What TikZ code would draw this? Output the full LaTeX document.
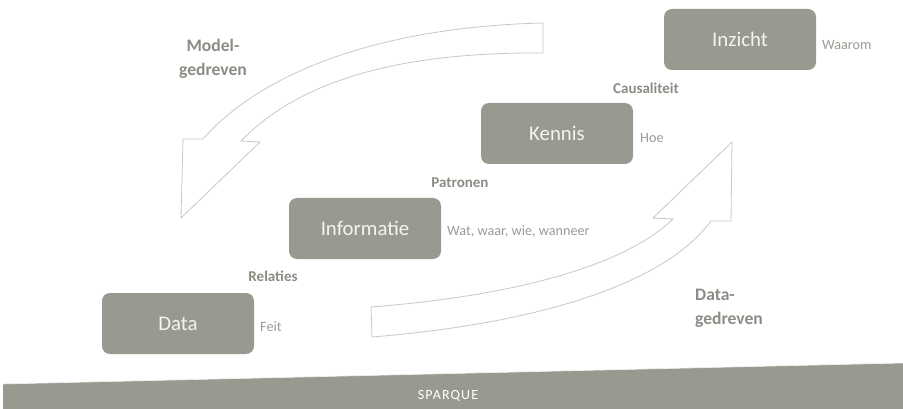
\documentclass[tikz,border=0pt]{standalone}
\usepackage{fontspec}
\setmainfont{Carlito}
\definecolor{boxgray}{RGB}{154,153,143}
\definecolor{lblgray}{RGB}{140,139,132}
\definecolor{smallgray}{RGB}{155,154,148}
\definecolor{arrowline}{RGB}{200,200,198}
\definecolor{boxtext}{RGB}{244,244,242}
\begin{document}
\begin{tikzpicture}[x=1pt,y=-1pt,
  stagebox/.style={fill=boxgray, rounded corners=8pt, minimum width=152pt, minimum height=61pt, inner sep=0pt, text=boxtext, font=\fontsize{20.8}{24}\selectfont},
  smalllbl/.style={anchor=west, text=smallgray, inner sep=0pt, font=\fontsize{14.2}{16}\selectfont},
  boldlbl/.style={text=lblgray, inner sep=0pt, font=\bfseries\fontsize{15}{17}\selectfont},
  biglbl/.style={text=lblgray, inner sep=0pt, font=\bfseries\fontsize{17.6}{24}\selectfont},
  bigarrow/.style={draw=arrowline, fill=white, line width=0.8pt, line join=miter}
]
\useasboundingbox (0,0) rectangle (903,409);

% big curved arrows
\draw[bigarrow] (543,23) .. controls (380,27) and (262,72) .. (203,139)
  -- (183,139) -- (181,218) -- (260,142) -- (241,141)
  .. controls (300,80) and (400,52) .. (543,53) -- cycle;
\draw[bigarrow] (371,307) .. controls (500,297) and (620,270) .. (673,219)
  -- (653,218) -- (732,142) -- (731,221) -- (711,221)
  .. controls (660,290) and (520,325) .. (372,337) -- cycle;

% boxes
\node[stagebox] (inzicht) at (740,39.5) {Inzicht};
\node[stagebox] (kennis) at (557,133.5) {Kennis};
\node[stagebox] (informatie) at (365,228.5) {Informatie};
\node[stagebox] (data) at (178,323.5) {Data};

% side labels
\node[smalllbl] (waarom) at (822,45) {Waarom};
\node[smalllbl] (hoe) at (640,138) {Hoe};
\node[smalllbl] (wat) at (447,232) {Wat, waar, wie, wanneer};
\node[smalllbl] (feit) at (260,327) {Feit};

% relation labels
\node[boldlbl] (causaliteit) at (646,88) {Causaliteit};
\node[boldlbl] (patronen) at (460,183) {Patronen};
\node[boldlbl] (relaties) at (273,276) {Relaties};

\node[biglbl, align=center] (model) at (213,59) {Model-\\gedreven};
\node[biglbl, align=left, anchor=west] (datagedreven) at (695,308) {Data-\\gedreven};

% bottom band
\fill[boxgray] (3,384) -- (903,363) -- (903,409) -- (3,409) -- cycle;
\draw[white!85!boxgray, line width=0.6pt] (3,384) -- (903,363);
\node[text=white, inner sep=0pt, font=\fontsize{14}{16}\selectfont\addfontfeatures{LetterSpace=8}] (sparque) at (448,396) {SPARQUE};
\end{tikzpicture}
\end{document}
